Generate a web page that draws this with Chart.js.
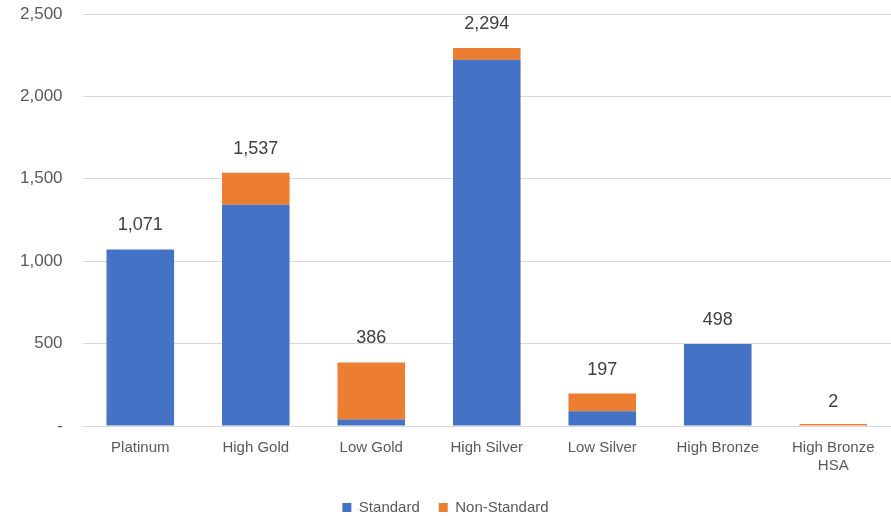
<!DOCTYPE html>
<html>
<head>
<meta charset="utf-8">
<script src="https://cdn.jsdelivr.net/npm/chart.js@4"></script>
<style>
  html, body { margin: 0; padding: 0; background: #fff; }
  #wrap { width: 891px; height: 516px; }
</style>
</head>
<body>
<div id="wrap"><canvas id="chart"></canvas></div>
<script>
const categories = ['Platinum', 'High Gold', 'Low Gold', 'High Silver', 'Low Silver', 'High Bronze', ['High Bronze', 'HSA']];
const standard = [1071, 1342, 39, 2223, 89, 498, null];
const nonStandard = [null, 195, 347, 71, 108, null, 2];
const totals = [1071, 1537, 386, 2294, 197, 498, 2];
const yTicks = [0, 500, 1000, 1500, 2000, 2500];

const FONT = "'Liberation Sans', Arial, sans-serif";

// legend box is a bit too tall by default, trim it so it sits near the bottom edge
if (Chart.Legend && Chart.Legend._element) {
  const LegendEl = Chart.Legend._element;
  const origFit = LegendEl.prototype.fit;
  LegendEl.prototype.fit = function () {
    origFit.call(this);
    if (this.isHorizontal()) this.height = 35;
  };
}

// totals above each stacked bar
const totalLabels = {
  id: 'totalLabels',
  afterDatasetsDraw(chart) {
    const ctx = chart.ctx;
    const y = chart.scales.y;
    const x = chart.scales.x;
    ctx.save();
    ctx.font = '18px ' + FONT;
    ctx.fillStyle = '#404040';
    ctx.textAlign = 'center';
    ctx.textBaseline = 'middle';
    totals.forEach((t, i) => {
      ctx.fillText(t.toLocaleString('en-US'), x.getPixelForValue(i), y.getPixelForValue(t) - 24);
    });
    ctx.restore();
  }
};

new Chart(document.getElementById('chart'), {
  type: 'bar',
  data: {
    labels: categories,
    datasets: [
      { label: 'Standard', data: standard, backgroundColor: '#4472c4', categoryPercentage: 0.585, barPercentage: 1 },
      { label: 'Non-Standard', data: nonStandard, backgroundColor: '#ed7d31', categoryPercentage: 0.585, barPercentage: 1, minBarLength: 2 }
    ]
  },
  options: {
    responsive: true,
    maintainAspectRatio: false,
    animation: false,
    layout: { padding: 0 },
    plugins: {
      legend: {
        position: 'bottom',
        labels: { boxWidth: 9, boxHeight: 9, color: '#595959', font: { family: FONT, size: 15 }, padding: 19 }
      },
      tooltip: { enabled: false }
    },
    scales: {
      x: {
        stacked: true,
        grid: { display: false },
        border: { color: '#d9d9d9' },
        ticks: { color: '#595959', font: { family: FONT, size: 15 }, maxRotation: 0, padding: 5 },
        afterFit(axis) { axis.height = 55; }
      },
      y: {
        stacked: true,
        min: 0,
        max: 2500,
        afterBuildTicks(axis) { axis.ticks = yTicks.map(v => ({ value: v })); },
        afterFit(axis) { axis.paddingTop = 14; axis.paddingBottom = 10; },
        grid: { color: '#d9d9d9', drawTicks: false },
        border: { display: false },
        ticks: {
          color: '#595959',
          font: { family: FONT, size: 17 },
          padding: 20,
          callback: v => v === 0 ? '-' : v.toLocaleString('en-US')
        }
      }
    }
  },
  plugins: [totalLabels]
});
</script>
</body>
</html>
